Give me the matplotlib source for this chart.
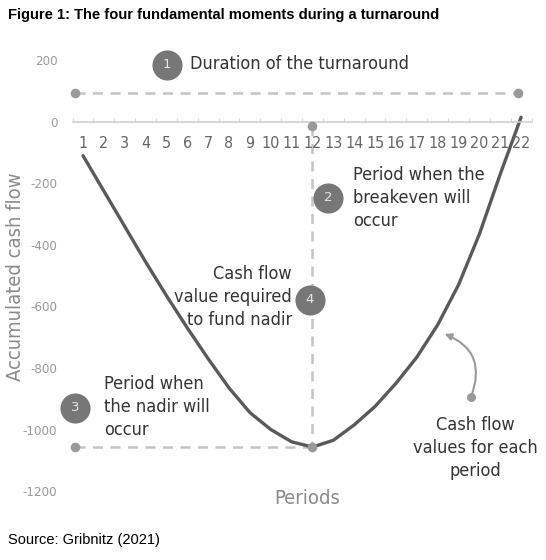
import matplotlib
matplotlib.use('Agg')
import matplotlib.pyplot as plt

# Dane
periods = list(range(1, 23))
cash_flow = [-110, -225, -340, -455, -565, -670, -770, -865, -945, -1000, -1040,
             -1057, -1035, -985, -925, -850, -765, -660, -530, -365, -170, 15]
y_ticks = [200, 0, -200, -400, -600, -800, -1000, -1200]

nadir_period = 12
nadir_value = -1057
duration_start, duration_end, duration_level = 0.6, 21.85, 95

narrow = 'Liberation Sans'
chart_font = ['DejaVu Sans']

fig = plt.figure(figsize=(5.46, 5.60), dpi=100)
ax = fig.add_axes([0.1253, 0.0902, 0.852, 0.8295])
ax.set_xlim(0.3, 22.6)
ax.set_ylim(-1260, 250)

# Linie pomocnicze
dash_col = '#c4c4c4'
dot_col = '#9a9a9a'
ax.plot([duration_start, duration_end], [duration_level, duration_level], ls=(0, (4, 3)),
        color=dash_col, lw=1.8, zorder=1)
ax.scatter([duration_start, duration_end], [duration_level, duration_level], s=35,
           color=dot_col, zorder=3, clip_on=False)
ax.plot([duration_start, nadir_period], [nadir_value, nadir_value], ls=(0, (4, 3)),
        color=dash_col, lw=1.8, zorder=1)
ax.plot([nadir_period, nadir_period], [-13, nadir_value], ls=(0, (4, 3)),
        color=dash_col, lw=1.8, zorder=1)
ax.scatter([duration_start, nadir_period, nadir_period], [nadir_value, nadir_value, -13],
           s=35, color=dot_col, zorder=3, clip_on=False)

# Krzywa
ax.plot(periods, cash_flow, color='#5a5a5a', lw=2.4, zorder=2, solid_capstyle='round')

# Osie
for s in ['top', 'right', 'left']:
    ax.spines[s].set_visible(False)
ax.spines['bottom'].set_position(('data', 0))
ax.spines['bottom'].set_bounds(0.5, 22.5)
ax.spines['bottom'].set_color('#d0d0d0')
ax.spines['bottom'].set_linewidth(1.2)
ax.set_xticks(periods)
ax.set_xticks([p + 0.5 for p in [0] + periods], minor=True)
ax.tick_params(axis='x', which='major', length=0, pad=10, labelsize=11.5, labelcolor='#666666')
ax.tick_params(axis='x', which='minor', length=3, direction='in', color='#d0d0d0')
for lab in ax.get_xticklabels():
    lab.set_family(chart_font)
    lab.set_stretch('condensed')
ax.set_yticks(y_ticks)
ax.set_yticklabels([str(v) for v in y_ticks])
ax.tick_params(axis='y', length=0, pad=8, labelsize=9.5, labelcolor='#9a9a9a')
for lab in ax.get_yticklabels():
    lab.set_family(chart_font)
    lab.set_stretch('condensed')

ax.text(11.75, -1225, 'Periods', ha='center', va='center', fontsize=14.5, color='#8a8a8a',
        family=chart_font, stretch='condensed')
fig.text(0.028, 0.505, 'Accumulated cash flow', rotation=90, ha='center', va='center',
         fontsize=14.5, color='#8a8a8a', family=chart_font, stretch='condensed')

# Numerowane kółka
circles = [(5.03, 185, '1'), (12.75, -247, '2'), (0.62, -930, '3'), (11.88, -579, '4')]
for cx, cy, num in circles:
    ax.scatter([cx], [cy], s=470, color='#777777', zorder=4, clip_on=False, linewidths=0)
    ax.text(cx, cy, num, ha='center', va='center', color='#e6e6e6', fontsize=9.5,
            zorder=5, family=chart_font)

txt = dict(color='#333333', fontsize=13, family=chart_font, stretch='condensed',
           linespacing=1.35, va='center')
ax.text(6.13, 189, 'Duration of the turnaround', ha='left', **txt)
ax.text(13.94, -247, 'Period when the\nbreakeven will\noccur', ha='left', **txt)
ax.text(11.02, -569, 'Cash flow\nvalue required\nto fund nadir', ha='right',
        multialignment='right', **txt)
ax.text(2.0, -927, 'Period when\nthe nadir will\noccur', ha='left', **txt)
ax.text(19.8, -1060, 'Cash flow\nvalues for each\nperiod', ha='center',
        multialignment='center', **txt)

ax.annotate('', xy=(18.21, -686), xytext=(19.6, -894),
            arrowprops=dict(arrowstyle='-|>', color='#9a9a9a', lw=1.5,
                            connectionstyle='arc3,rad=0.5', shrinkA=0, shrinkB=2))
ax.scatter([19.6], [-894], s=30, color='#9a9a9a', zorder=3)

fig.text(0.015, 0.973, 'Figure 1: The four fundamental moments during a turnaround',
         ha='left', va='center', fontsize=10.6, fontweight='bold', family=narrow)
fig.text(0.015, 0.035, 'Source: Gribnitz (2021)', ha='left', va='center', fontsize=10.5,
         family=narrow)

fig.savefig('out.png', dpi=100)
